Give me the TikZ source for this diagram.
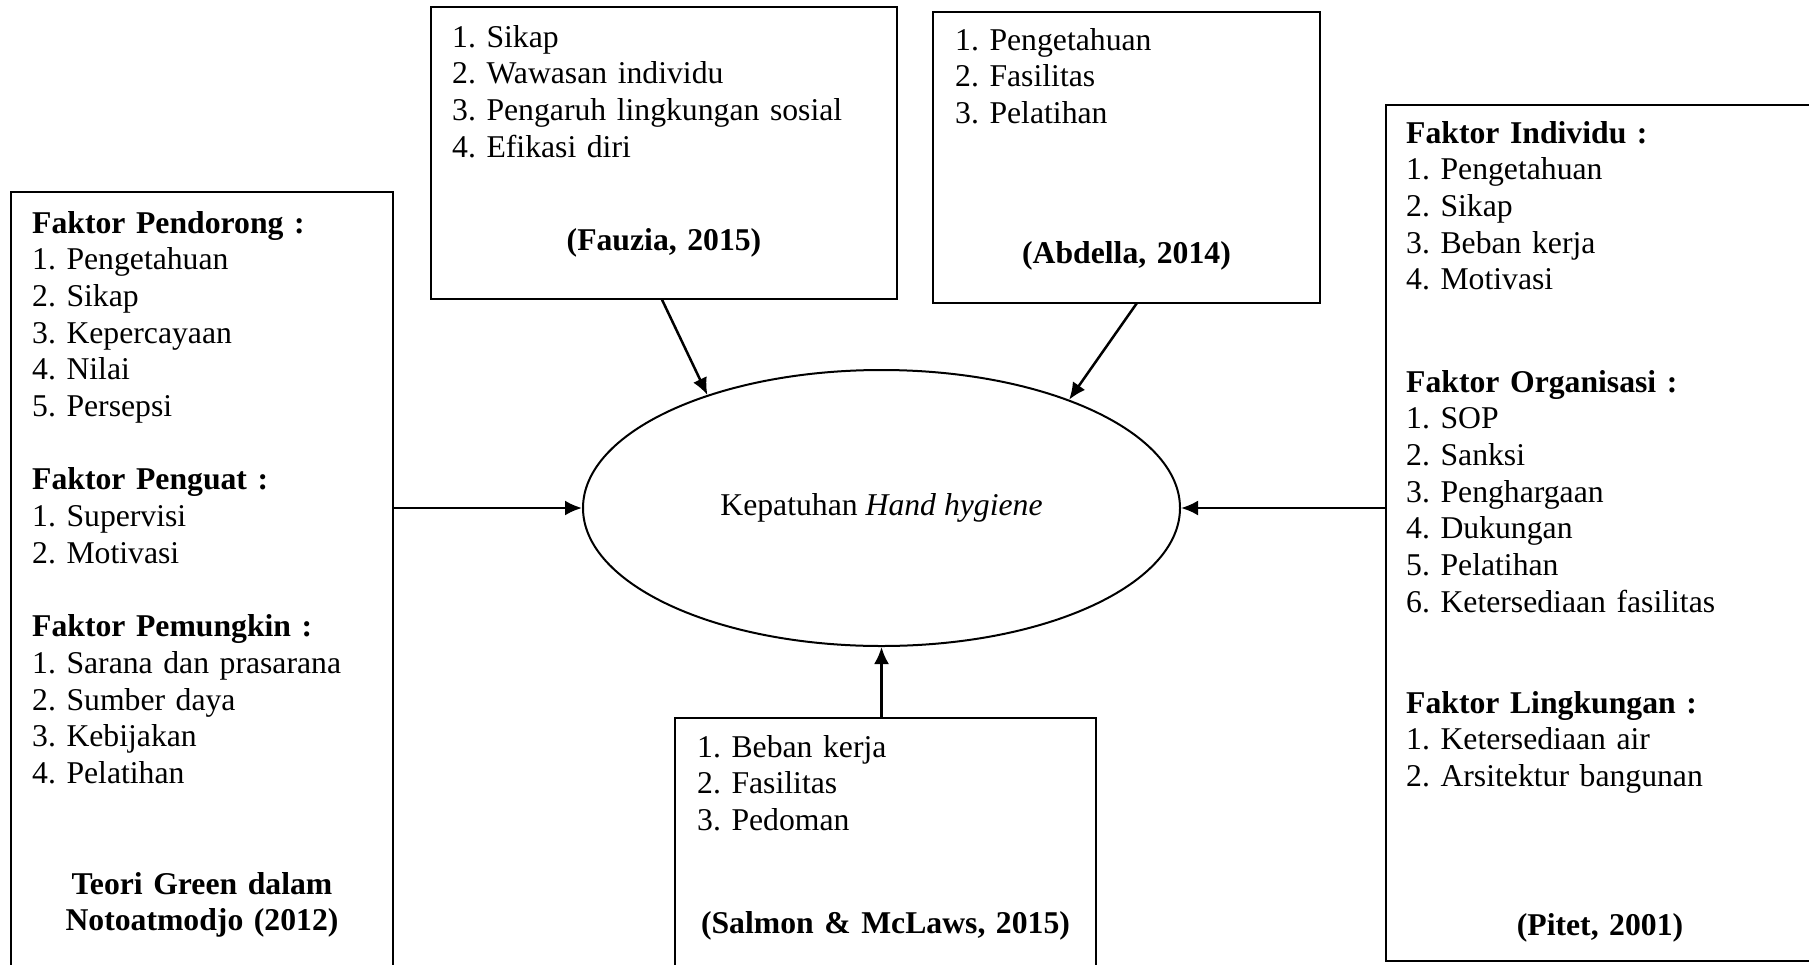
\documentclass[tikz,border=0pt]{standalone}
\usepackage{fontspec}
\setmainfont{Liberation Serif}
\frenchspacing
\usetikzlibrary{arrows.meta,shapes.geometric,calc}
\begin{document}
\begin{tikzpicture}[x=1pt,y=-1pt,
  box/.style={draw, line width=2pt, anchor=north west, inner sep=0pt, outer sep=0pt},
  txt/.style={anchor=base west, inner sep=0pt, text width=400pt, align=left,
    font=\fontsize{31.7}{36.7}\selectfont\frenchspacing},
  cite/.style={anchor=base, inner sep=0pt, text width=400pt, align=center,
    font=\fontsize{31.7}{36.7}\selectfont\bfseries\frenchspacing},
  arr/.style={line width=2.5pt, -{Latex[length=17pt,width=15pt]}}]
\clip (0,0) rectangle (1809,964);
\fill[white] (0,0) rectangle (1809,964);

% boxes
\node[box, minimum width=382pt, minimum height=790pt] (green) at (11,192) {};
\node[box, minimum width=466pt, minimum height=292pt] (fauzia) at (431,7) {};
\node[box, minimum width=387pt, minimum height=291pt] (abdella) at (933,12) {};
\node[box, minimum width=428pt, minimum height=856pt] (pitet) at (1386,105) {};
\node[box, minimum width=421pt, minimum height=270pt] (salmon) at (675,718) {};

% central ellipse
\node[ellipse, draw, line width=2pt, minimum width=597pt, minimum height=276pt, inner sep=0pt,
  font=\fontsize{31.7}{36.7}\selectfont] (hh) at (881.5,508) {Kepatuhan \textit{Hand hygiene}};

% left box text
\node[txt] (greentxt) at (32,233) {\textbf{Faktor Pendorong :}\\ 1. Pengetahuan\\ 2. Sikap\\ 3. Kepercayaan\\ 4. Nilai\\ 5. Persepsi\\[36.7pt] \textbf{Faktor Penguat :}\\ 1. Supervisi\\ 2. Motivasi\\[36.7pt] \textbf{Faktor Pemungkin :}\\ 1. Sarana dan prasarana\\ 2. Sumber daya\\ 3. Kebijakan\\ 4. Pelatihan};
\node[cite] (greencite) at (202,894) {Teori Green dalam\\ Notoatmodjo (2012)};

% Fauzia
\node[txt] (fauziatxt) at (452,47) {1. Sikap\\ 2. Wawasan individu\\ 3. Pengaruh lingkungan sosial\\ 4. Efikasi diri};
\node[cite] (fauziacite) at (664,250) {(Fauzia, 2015)};

% Abdella
\node[txt] (abdellatxt) at (955,50) {1. Pengetahuan\\ 2. Fasilitas\\ 3. Pelatihan};
\node[cite] (abdellacite) at (1126.5,263) {(Abdella, 2014)};

% Pitet
\node[txt] (pitettxta) at (1406,143) {\textbf{Faktor Individu :}\\ 1. Pengetahuan\\ 2. Sikap\\ 3. Beban kerja\\ 4. Motivasi};
\node[txt] (pitettxtb) at (1406,392) {\textbf{Faktor Organisasi :}\\ 1. SOP\\ 2. Sanksi\\ 3. Penghargaan\\ 4. Dukungan\\ 5. Pelatihan\\ 6. Ketersediaan fasilitas};
\node[txt] (pitettxtc) at (1406,713) {\textbf{Faktor Lingkungan :}\\ 1. Ketersediaan air\\ 2. Arsitektur bangunan};
\node[cite] (pitetcite) at (1600,935) {(Pitet, 2001)};

% Salmon
\node[txt] (salmontxt) at (697,757) {1. Beban kerja\\ 2. Fasilitas\\ 3. Pedoman};
\node[cite] (salmoncite) at (885.5,933) {(Salmon \& McLaws, 2015)};

% connectors
\draw[arr] ($(fauzia.south west)!0.495!(fauzia.south east)$) -- (hh.147);
\draw[arr] ($(abdella.south west)!0.527!(abdella.south east)$) -- (hh.30.5);
\draw[arr] (hh.west -| green.east) -- (hh.west);
\draw[arr] (hh.east -| pitet.west) -- (hh.east);
\draw[arr] (hh.south |- salmon.north) -- (hh.south);
\end{tikzpicture}
\end{document}
